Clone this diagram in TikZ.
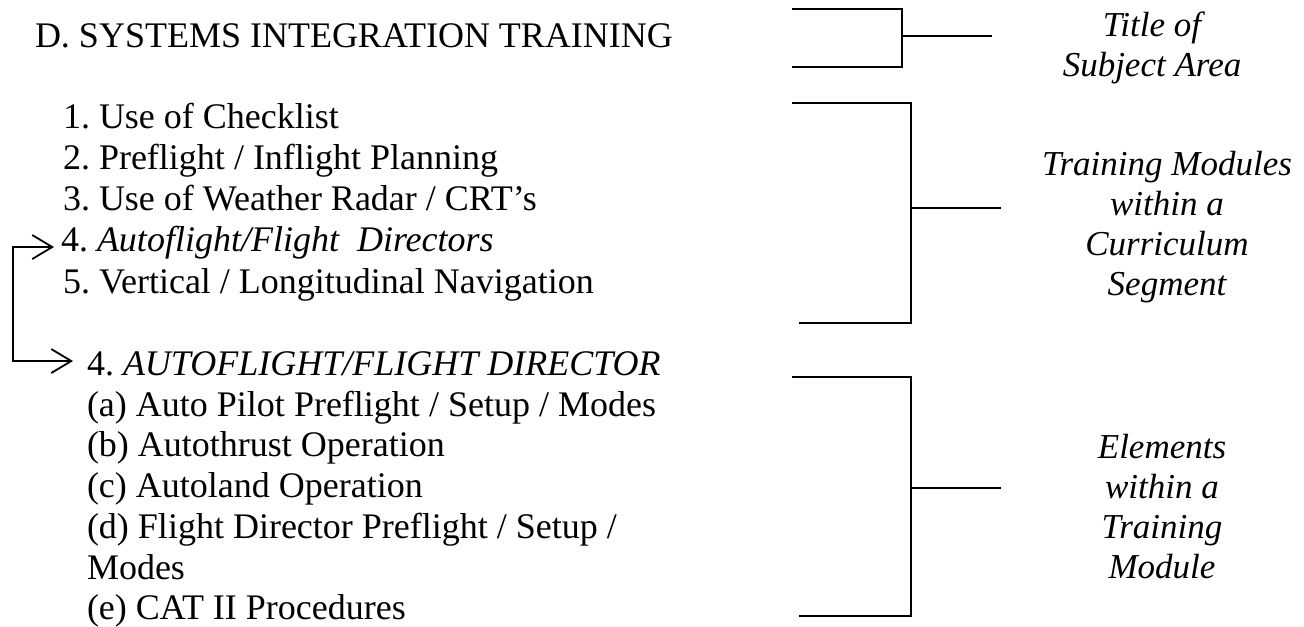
\documentclass[tikz,border=0pt]{standalone}
\usepackage{fontspec}
\setmainfont{Liberation Serif}
\usetikzlibrary{arrows.meta,calc}
\frenchspacing
\begin{document}
\begin{tikzpicture}[x=0.5pt,y=-0.5pt,
  every node/.style={inner sep=0pt,outer sep=0pt},
  item/.style={anchor=base west,font=\fontsize{18}{20}\selectfont},
  note/.style={anchor=center,align=center,font=\fontsize{17.5}{20}\selectfont\itshape},
  brace/.style={line width=1pt},
  barb/.style={Straight Barb[length=10pt,width=12pt,line width=0.9pt]},
  feed/.style={line width=0.9pt,{Straight Barb[length=10pt,width=12pt,line width=0.9pt]}-{Straight Barb[length=10pt,width=12pt,line width=0.9pt]}}]
\useasboundingbox (0,0) rectangle (1304,626);

% subject area title
\node[item] (title) at (35,48) {D. SYSTEMS INTEGRATION TRAINING};

% training modules
\node[item] (m1) at (63,128) {1. Use of Checklist};
\node[item] (m2) at (63,169) {2. Preflight / Inflight Planning};
\node[item] (m3) at (63,210) {3. Use of Weather Radar / CRT’s};
\node[item] (m4) at (61,251) {4. \textit{Autoflight/Flight\ \ Directors}};
\node[item] (m5) at (63,293) {5. Vertical / Longitudinal Navigation};

% elements of module 4
\node[item] (h4) at (87,375) {4. \textit{AUTOFLIGHT/FLIGHT DIRECTOR}};
\node[item] (ea) at (87,416) {(a) Auto Pilot Preflight / Setup / Modes};
\node[item] (eb) at (87,456) {(b) Autothrust Operation};
\node[item] (ec) at (87,497) {(c) Autoland Operation};
\node[item] (ed) at (87,538) {(d) Flight Director Preflight / Setup /};
\node[item] (ed2) at (87,579) {Modes};
\node[item] (ee) at (87,619) {(e) CAT II Procedures};

% link from module 4 to its expansion
\coordinate (ta) at ($(m4.base west)+(-7,-4)$);
\coordinate (tb) at ($(h4.base west)+(-14,-14)$);
\draw[feed] (ta) -- (13,247) -- (13,361) -- (tb);

% bracket labels
\node[note] (lt) at (1152,48) {Title of\\Subject Area};
\node[note] (lm) at (1167,227) {Training Modules\\within a\\Curriculum\\Segment};
\node[note] (le) at (1162,507) {Elements\\within a\\Training\\Module};

% brackets
\draw[brace] (792,9) -- (902,9) -- (902,67) -- (792,67);
\coordinate (bt) at (902,36);
\coordinate (ct) at (992,36);
\draw[brace] (bt) -- (ct);

\draw[brace] (792,103) -- (911,103) -- (911,323) -- (799,323);
\coordinate (bm) at (911,208);
\coordinate (cm) at (1001,208);
\draw[brace] (bm) -- (cm);

\draw[brace] (792,377) -- (911,377) -- (911,616) -- (799,616);
\coordinate (be) at (911,488);
\coordinate (ce) at (1001,488);
\draw[brace] (be) -- (ce);
\end{tikzpicture}
\end{document}
